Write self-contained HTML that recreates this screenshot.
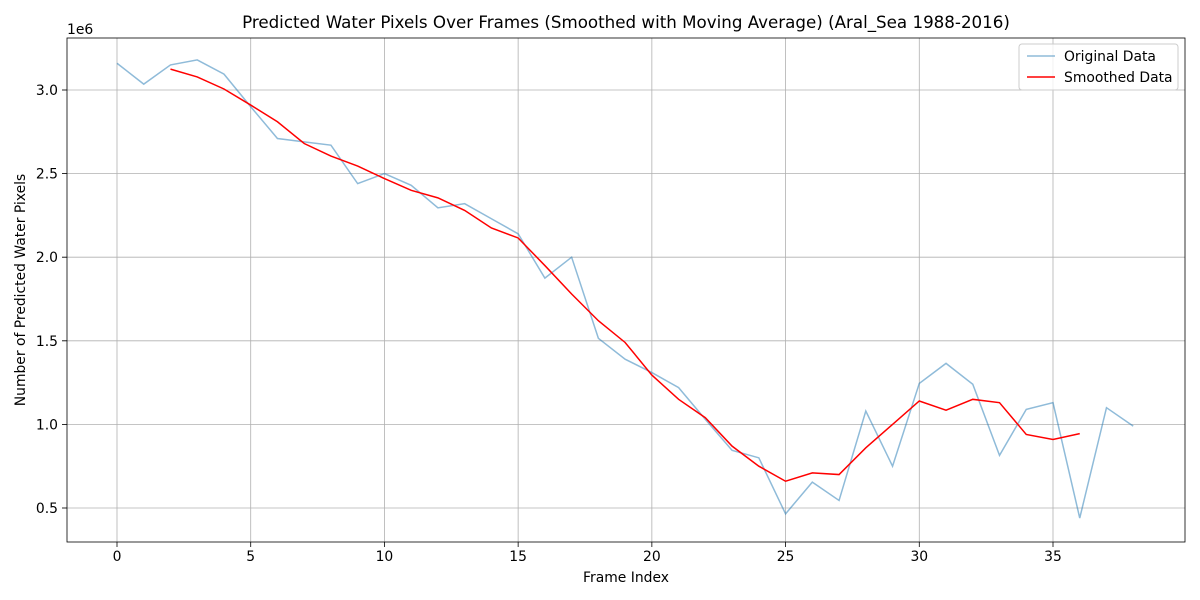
<!DOCTYPE html>
<html><head><meta charset="utf-8">
<style>
html,body{margin:0;padding:0;background:#fff;}
svg{display:block;font-family:"DejaVu Sans","Liberation Sans",sans-serif;}
</style></head>
<body>
<svg id="chart" width="1200" height="600" viewBox="0 0 1200 600">
</svg>
<script>
const frames = [0,1,2,3,4,5,6,7,8,9,10,11,12,13,14,15,16,17,18,19,20,21,22,23,24,25,26,27,28,29,30,31,32,33,34,35,36,37,38];
const originalValues = [3.16,3.035,3.15,3.18,3.095,2.90,2.71,2.69,2.67,2.44,2.50,2.43,2.295,2.32,2.23,2.14,1.875,2.00,1.515,1.39,1.31,1.22,1.03,0.845,0.80,0.465,0.655,0.545,1.08,0.75,1.245,1.365,1.24,0.815,1.09,1.13,0.44,1.10,0.99];
const smoothedFrames = [2,3,4,5,6,7,8,9,10,11,12,13,14,15,16,17,18,19,20,21,22,23,24,25,26,27,28,29,30,31,32,33,34,35,36];
const smoothedValues = [3.125,3.078,3.006,2.91,2.81,2.68,2.605,2.545,2.47,2.40,2.355,2.28,2.175,2.115,1.95,1.78,1.62,1.49,1.295,1.15,1.04,0.87,0.75,0.66,0.71,0.70,0.86,1.0,1.14,1.085,1.15,1.13,0.94,0.91,0.945];
const xTicks = [0,5,10,15,20,25,30,35];
const yTicks = [0.5,1.0,1.5,2.0,2.5,3.0];

const L=67,R=1185,T=38,B=542;
const xs = v => 117 + v*(1053-117)/35;
const ys = v => 90 + (3.0 - v)*(508-90)/2.5;
const svg = document.getElementById('chart');
const NS = 'http://www.w3.org/2000/svg';
function mk(tag, attrs, parent){
  const e = document.createElementNS(NS, tag);
  for (const k in attrs) e.setAttribute(k, attrs[k]);
  (parent||svg).appendChild(e);
  return e;
}
const grid = mk('g', {});


xTicks.forEach(t => {
  mk('line',{x1:xs(t),x2:xs(t),y1:T,y2:B,stroke:'#b0b0b0','stroke-width':0.8},grid);
  mk('line',{x1:xs(t),x2:xs(t),y1:B,y2:B+5,stroke:'#000','stroke-width':0.8});
  const tx = mk('text',{x:xs(t),y:B+19,'text-anchor':'middle','font-size':13.9,fill:'#000'});
  
  
  tx.textContent = t;
});
yTicks.forEach(t => {
  mk('line',{x1:L-5,x2:R,y1:ys(t),y2:ys(t),stroke:'#b0b0b0','stroke-width':0.8},grid);
  mk('line',{x1:L-5,x2:L,y1:ys(t),y2:ys(t),stroke:'#000','stroke-width':0.8});
  const tx = mk('text',{x:L-9,y:ys(t)+5,'text-anchor':'end','font-size':13.9,fill:'#000'});
  
  
  tx.textContent = t.toFixed(1);
});
const orig = mk('polyline',{points:frames.map((f,i)=>xs(f)+','+ys(originalValues[i])).join(' '),fill:'none',stroke:'#1f77b4','stroke-opacity':0.5,'stroke-width':1.5});


const sm = mk('polyline',{points:smoothedFrames.map((f,i)=>xs(f)+','+ys(smoothedValues[i])).join(' '),fill:'none',stroke:'#ff0000','stroke-width':1.5});


const frame = mk('rect',{x:L,y:T,width:R-L,height:B-T,fill:'none',stroke:'#000','stroke-width':0.8});


</script>
<div style="position:absolute;left:0;top:0;width:1200px;height:600px;pointer-events:none;">
<svg width="1200" height="600" style="position:absolute;left:0;top:0;font-family:'DejaVu Sans','Liberation Sans',sans-serif;">
<text x="626" y="28" text-anchor="middle" font-size="16.7" fill="#000">Predicted Water Pixels Over Frames (Smoothed with Moving Average) (Aral_Sea 1988-2016)</text>
<text x="67" y="34" font-size="13.9" fill="#000">1e6</text>
<text x="626" y="582" text-anchor="middle" font-size="13.9" fill="#000">Frame Index</text>
<text transform="translate(25,290) rotate(-90)" text-anchor="middle" font-size="13.9" fill="#000">Number of Predicted Water Pixels</text>
<g>
<rect x="1019" y="44" width="159" height="46" rx="3" fill="#fff" fill-opacity="0.8" stroke="#ccc"/>
<line x1="1027" x2="1055" y1="56" y2="56" stroke="#1f77b4" stroke-opacity="0.5" stroke-width="1.5"/>
<text x="1064" y="61" font-size="13.9" fill="#000">Original Data</text>
<line x1="1027" x2="1055" y1="77" y2="77" stroke="#ff0000" stroke-width="1.5"/>
<text x="1064" y="82" font-size="13.9" fill="#000">Smoothed Data</text>
</g>
</svg>
</div>
</body></html>
